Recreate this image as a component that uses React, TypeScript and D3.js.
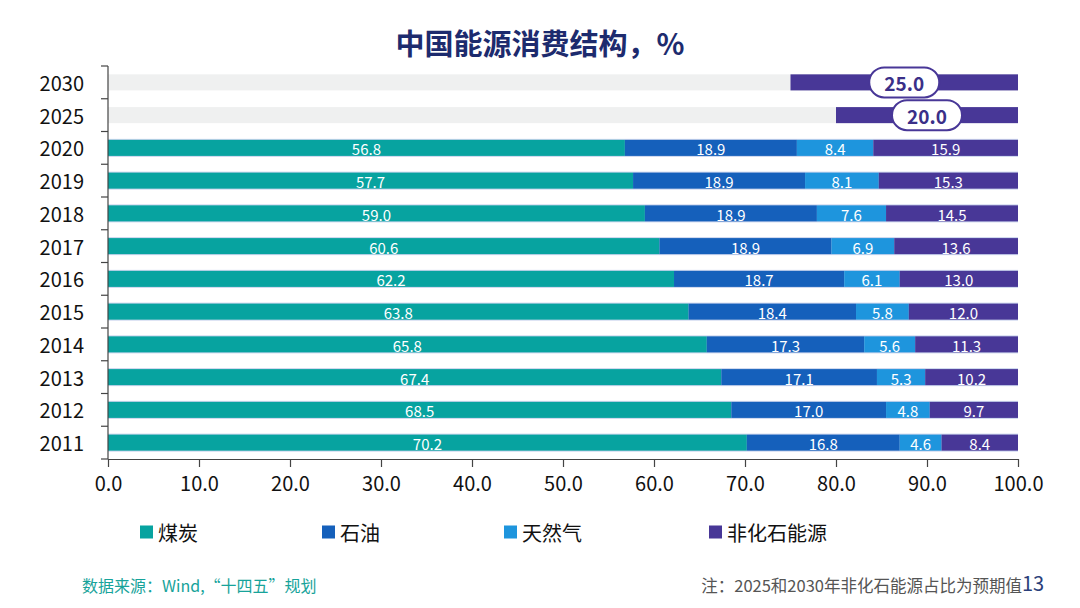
import { useEffect, useRef } from "react";
import * as d3 from "d3";

const WIDTH = 1080;
const HEIGHT = 608;
const FONT = "'Noto Sans CJK SC', 'Noto Sans', sans-serif";

// historical years, oldest first
const years = ["2011", "2012", "2013", "2014", "2015", "2016", "2017", "2018", "2019", "2020"];
const coal = [70.2, 68.5, 67.4, 65.8, 63.8, 62.2, 60.6, 59.0, 57.7, 56.8];
const oil = [16.8, 17.0, 17.1, 17.3, 18.4, 18.7, 18.9, 18.9, 18.9, 18.9];
const gas = [4.6, 4.8, 5.3, 5.6, 5.8, 6.1, 6.9, 7.6, 8.1, 8.4];
const nonFossil = [8.4, 9.7, 10.2, 11.3, 12.0, 13.0, 13.6, 14.5, 15.3, 15.9];

// planned targets (non-fossil share only)
const targetYears = ["2030", "2025"];
const targetNonFossil = [25.0, 20.0];

const seriesNames = ["煤炭", "石油", "天然气", "非化石能源"];
const seriesColors = ["#07a3a0", "#1560bb", "#1e95dd", "#483797"];
const xTicks = [0, 10, 20, 30, 40, 50, 60, 70, 80, 90, 100];

const MARGIN = { top: 66, left: 108, right: 62, bottom: 149 };

export default function App() {
  const xAxisRef = useRef<SVGGElement>(null);

  const x = d3
    .scaleLinear()
    .domain([0, 100])
    .range([MARGIN.left, WIDTH - MARGIN.right]);

  const categories = [...targetYears, ...[...years].reverse()]; // 2030 on top
  const y = d3
    .scaleBand<string>()
    .domain(categories)
    .range([MARGIN.top, HEIGHT - MARGIN.bottom]);
  const step = y.step();
  const barH = step * 0.49;
  const cy = (c: string) => (y(c) || 0) + step / 2;

  const stacks = years.map((yr, i) => {
    const vals = [coal[i], oil[i], gas[i], nonFossil[i]];
    let acc = 0;
    return {
      year: yr,
      segs: vals.map((v, k) => {
        const s = { start: acc, end: acc + v, value: v, color: seriesColors[k] };
        acc += v;
        return s;
      }),
    };
  });

  useEffect(() => {
    const g = d3.select(xAxisRef.current);
    g.selectAll("*").remove();
    g.call(
      d3
        .axisBottom(x)
        .tickValues(xTicks)
        .tickFormat(d3.format(".1f"))
        .tickSize(8)
        .tickSizeOuter(0)
    );
    g.selectAll("path, line").attr("stroke", "#444").attr("stroke-width", 1.2);
    g.selectAll("text")
      .attr("font-size", 20)
      .attr("font-family", FONT)
      .attr("fill", "#111")
      .attr("dy", "1.05em");
  }, []);

  const yBottom = HEIGHT - MARGIN.bottom;
  const boundaries = categories.map((c) => y(c) || 0).concat([yBottom]);

  const legendX = [140, 322, 504, 709];

  return (
    <svg width={WIDTH} height={HEIGHT} style={{ display: "block", margin: -8 }}>
      <rect width={WIDTH} height={HEIGHT} fill="#fff" />
      <text
        x={540}
        y={42}
        textAnchor="middle"
        dominantBaseline="central"
        fontFamily={FONT}
        fontSize={29}
        fontWeight="bold"
        fill="#1d2b6e"
      >
        中国能源消费结构，%
      </text>

      {/* target rows */}
      {targetYears.map((yr, i) => {
        const v = targetNonFossil[i];
        const c = cy(yr);
        const mid = x(100 - v / 2);
        return (
          <g key={yr}>
            <rect x={x(0)} y={c - barH / 2} width={x(100) - x(0)} height={barH} fill="#eff0f0" />
            <rect x={x(100 - v)} y={c - barH / 2} width={x(100) - x(100 - v)} height={barH} fill={seriesColors[3]} />
            <rect x={mid - 35} y={c - 15} width={70} height={30} rx={15} fill="#fff" stroke="#483797" strokeWidth={2} />
            <text
              x={mid}
              y={c}
              textAnchor="middle"
              dominantBaseline="central"
              fontFamily={FONT}
              fontSize={19}
              fontWeight="bold"
              fill="#3a2f88"
            >
              {v.toFixed(1)}
            </text>
          </g>
        );
      })}

      {/* stacked history rows */}
      {stacks.map((row) => {
        const c = cy(row.year);
        return (
          <g key={row.year}>
            <rect x={x(0)} y={c - barH / 2 - 1} width={x(100) - x(0)} height={barH + 2} fill="#cdd6ee" />
            {row.segs.map((s, k) => (
              <g key={k}>
                <rect x={x(s.start)} y={c - barH / 2} width={x(s.end) - x(s.start)} height={barH} fill={s.color} />
                <text
                  x={(x(s.start) + x(s.end)) / 2}
                  y={c + 1}
                  textAnchor="middle"
                  dominantBaseline="central"
                  fontFamily={FONT}
                  fontSize={15}
                  fill="#fff"
                >
                  {s.value.toFixed(1)}
                </text>
              </g>
            ))}
          </g>
        );
      })}

      {/* y axis */}
      <line x1={x(0)} x2={x(0)} y1={MARGIN.top} y2={yBottom} stroke="#444" strokeWidth={1.2} />
      {boundaries.map((b, i) => (
        <line key={i} x1={x(0) - 7} x2={x(0)} y1={b} y2={b} stroke="#444" strokeWidth={1.2} />
      ))}
      {categories.map((c) => (
        <text
          key={c}
          x={84}
          y={cy(c)}
          textAnchor="end"
          dominantBaseline="central"
          fontFamily={FONT}
          fontSize={20}
          fill="#111"
        >
          {c}
        </text>
      ))}

      <g ref={xAxisRef} transform={`translate(0,${yBottom})`} />

      {/* legend */}
      {seriesNames.map((n, i) => (
        <g key={n} transform={`translate(${legendX[i]},532)`}>
          <rect x={0} y={-6.5} width={13} height={13} fill={seriesColors[i]} />
          <text x={18} y={0} dominantBaseline="central" fontFamily={FONT} fontSize={20} fill="#111">
            {n}
          </text>
        </g>
      ))}

      {/* footer */}
      <text x={82} y={585} dominantBaseline="central" fontFamily={FONT} fontSize={16} fill="#17a39a">
        数据来源：Wind,“十四五”规划
      </text>
      <text x={1022} y={585} textAnchor="end" dominantBaseline="central" fontFamily={FONT} fontSize={16.5} fill="#555">
        注：2025和2030年非化石能源占比为预期值
      </text>
      <text x={1022} y={582} dominantBaseline="central" fontFamily={FONT} fontSize={20} fill="#2a3f7a">
        13
      </text>
    </svg>
  );
}
